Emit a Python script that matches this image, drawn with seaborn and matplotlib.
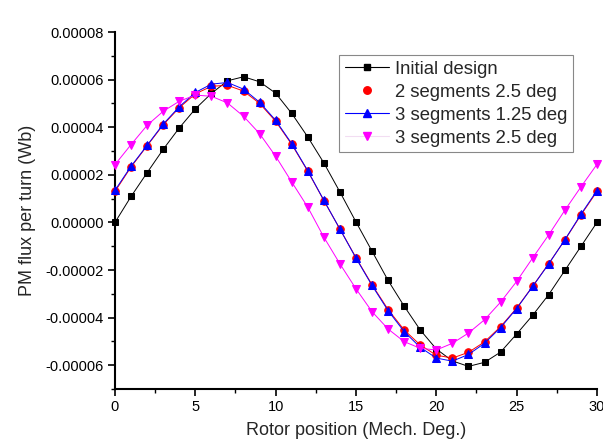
import numpy as np
import pandas as pd
import matplotlib
matplotlib.use("Agg")
import matplotlib.pyplot as plt
from matplotlib.lines import Line2D
from matplotlib.ticker import MultipleLocator, FormatStrFormatter
import seaborn as sns

# ---- data (values in 1e-5 Wb) ----
rotor_pos = list(range(0, 31))
initial_design = [0.00, 1.09, 2.09, 3.07, 3.97, 4.77, 5.42, 5.95, 6.12, 5.91,
                  5.43, 4.58, 3.59, 2.50, 1.28, 0.02, -1.21, -2.44, -3.52, -4.52,
                  -5.32, -5.82, -6.05, -5.88, -5.45, -4.69, -3.90, -3.03, -2.02, -1.01,
                  0.00]
seg2_25 = [1.30, 2.33, 3.22, 4.10, 4.82, 5.40, 5.72, 5.76, 5.52, 5.00,
           4.25, 3.28, 2.15, 0.92, -0.28, -1.48, -2.62, -3.66, -4.52, -5.15,
           -5.58, -5.70, -5.46, -5.02, -4.38, -3.60, -2.68, -1.73, -0.74, 0.31,
           1.30]
seg3_125 = [1.35, 2.36, 3.24, 4.13, 4.86, 5.46, 5.81, 5.88, 5.60, 5.05,
            4.29, 3.31, 2.17, 0.93, -0.28, -1.50, -2.65, -3.71, -4.59, -5.25,
            -5.70, -5.83, -5.55, -5.08, -4.42, -3.62, -2.69, -1.74, -0.73, 0.34,
            1.34]
seg3_25 = [2.43, 3.27, 4.08, 4.67, 5.09, 5.35, 5.30, 5.02, 4.46, 3.73,
           2.78, 1.70, 0.64, -0.62, -1.74, -2.79, -3.75, -4.48, -5.01, -5.29,
           -5.36, -5.08, -4.65, -4.09, -3.35, -2.48, -1.49, -0.52, 0.51, 1.49,
           2.44]
series_names = ["Initial design", "2 segments 2.5 deg",
                "3 segments 1.25 deg", "3 segments 2.5 deg"]
series_vals = [initial_design, seg2_25, seg3_125, seg3_25]
scale = 1e-5

x_label = "Rotor position (Mech. Deg.)"
y_label = "PM flux per turn (Wb)"

frames = []
for name, vals in zip(series_names, series_vals):
    frames.append(pd.DataFrame({"x": rotor_pos,
                                "y": np.array(vals) * scale,
                                "series": name}))
df = pd.concat(frames, ignore_index=True)

# ---- style ----
sns.set_theme(style="ticks")
plt.rcParams["font.family"] = ["Liberation Sans", "DejaVu Sans"]

colors = ["#000000", "#FF0000", "#0000FF", "#FF00FF"]
markers = ["s", "o", "^", "v"]
msizes = [4.8, 5.4, 6.4, 6.4]
lwidths = [0.7, 0.7, 0.7, 0.7]

fig = plt.figure(figsize=(6.03, 4.46), dpi=100)
ax = fig.add_axes([0.1907, 0.1278, 0.7993, 0.8004])

for name, c, m, ms, lw in zip(series_names, colors, markers, msizes, lwidths):
    sub = df[df["series"] == name]
    sns.lineplot(data=sub, x="x", y="y", ax=ax, color=c, marker=m,
                 markersize=ms, markeredgecolor=c, markerfacecolor=c,
                 linewidth=lw, legend=False, clip_on=False, zorder=3)

ax.set_xlim(0, 30)
ax.set_ylim(-0.00007, 0.00008)
ax.xaxis.set_major_locator(MultipleLocator(5))
ax.xaxis.set_minor_locator(MultipleLocator(2.5))
ax.yaxis.set_major_locator(MultipleLocator(0.00002))
ax.yaxis.set_minor_locator(MultipleLocator(0.00001))
ax.yaxis.set_major_formatter(FormatStrFormatter("%.5f"))
ax.xaxis.set_major_formatter(FormatStrFormatter("%d"))

for side in ["top", "right"]:
    ax.spines[side].set_visible(False)
for side in ["left", "bottom"]:
    ax.spines[side].set_linewidth(1.5)
    ax.spines[side].set_color("black")

ax.tick_params(which="major", direction="out", length=5, width=1.2,
               labelsize=10.5, colors="black", pad=3)
ax.tick_params(which="minor", direction="out", length=3, width=1.0,
               colors="black")

ax.set_xlabel(x_label, fontsize=13, labelpad=6)
ax.set_ylabel(y_label, fontsize=13, labelpad=7)

handles = [
    Line2D([0], [0], color="#000000", lw=0.8, marker="s", markersize=4.8),
    Line2D([0], [0], color="#FF0000", lw=0.0, marker="o", markersize=5.4),
    Line2D([0], [0], color="#0000FF", lw=0.8, marker="^", markersize=6.4),
    Line2D([0], [0], color="#F2DDF2", lw=0.8, marker="v", markersize=6.4,
           markerfacecolor="#FF00FF", markeredgecolor="#FF00FF"),
]
leg = ax.legend(handles, series_names, loc="upper left",
                bbox_to_anchor=(0.465, 0.935), fontsize=13.3, frameon=True,
                fancybox=False, edgecolor="#888888", framealpha=1,
                borderaxespad=0, handlelength=2.4, handletextpad=0.35,
                labelspacing=0.32, borderpad=0.3)
leg.get_frame().set_linewidth(0.8)

fig.savefig("out.png", dpi=100)
